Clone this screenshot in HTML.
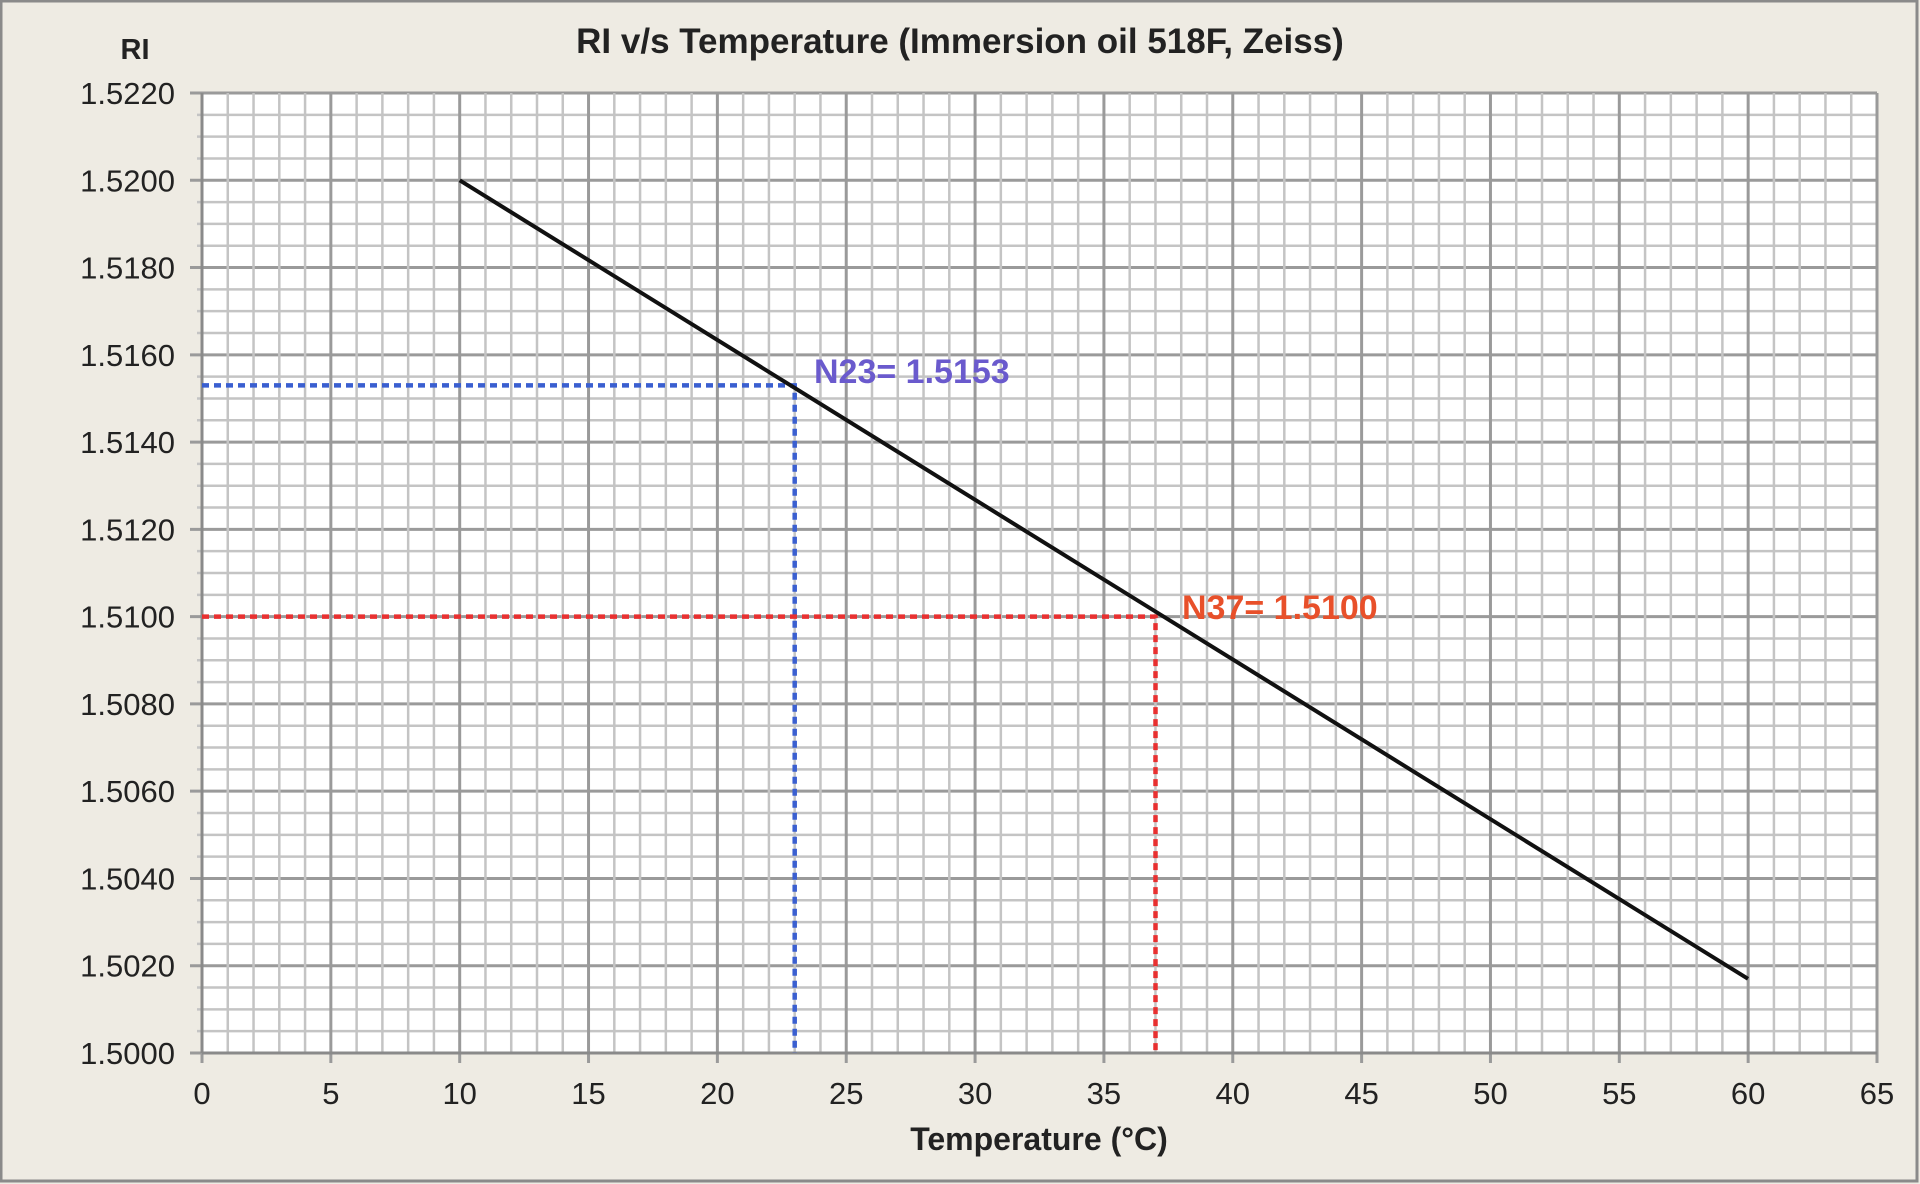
<!DOCTYPE html>
<html><head><meta charset="utf-8"><style>
html,body{margin:0;padding:0;background:#eeebe3;}
svg{display:block;font-family:"Liberation Sans",Arial,sans-serif;}
</style></head><body>
<svg id="s" width="1920" height="1184" viewBox="0 0 1920 1184" xmlns="http://www.w3.org/2000/svg">
<rect x="0" y="0" width="1920" height="1184" fill="#eeebe3"/>
<rect x="1" y="1" width="1916" height="1180" fill="none" stroke="#8a8a8a" stroke-width="3"/>
<rect x="202" y="93" width="1675" height="960" fill="#ffffff"/>
<g id="grid"></g>
<g id="lbl" font-size="31" fill="#222"></g>
<text x="960" y="53" text-anchor="middle" font-size="35" font-weight="bold" fill="#222">RI v/s Temperature  (Immersion oil 518F, Zeiss)</text>
<text x="135" y="59" text-anchor="middle" font-size="29" font-weight="bold" fill="#222">RI</text>
<text x="1039" y="1150" text-anchor="middle" font-size="32" font-weight="bold" fill="#222">Temperature (°C)</text>
<polyline points="202,385.4 794.7,385.4 794.7,1053" fill="none" stroke="#3a5fd0" stroke-width="4.5" stroke-dasharray="7,5"/>
<polyline points="202,616.6 1155.5,616.6 1155.5,1053" fill="none" stroke="#e83030" stroke-width="4.5" stroke-dasharray="7,5"/>
<line x1="459.7" y1="180.3" x2="1748" y2="978.8" stroke="#111" stroke-width="4"/>
<text x="814" y="383" font-size="34" font-weight="bold" fill="#6a5acd">N23= 1.5153</text>
<text x="1182" y="619" font-size="34" font-weight="bold" fill="#e8502a">N37= 1.5100</text>
</svg>
<script>
var ns="http://www.w3.org/2000/svg",g=document.getElementById("grid"),L=document.getElementById("lbl");
function ln(x1,y1,x2,y2,c,w){var e=document.createElementNS(ns,"line");e.setAttribute("x1",x1);e.setAttribute("y1",y1);e.setAttribute("x2",x2);e.setAttribute("y2",y2);e.setAttribute("stroke",c);e.setAttribute("stroke-width",w);g.appendChild(e);}
function tx(x,y,t,a){var e=document.createElementNS(ns,"text");e.setAttribute("x",x);e.setAttribute("y",y);e.setAttribute("text-anchor",a);e.textContent=t;L.appendChild(e);}
var X0=202,X1=1877,Y0=93,Y1=1053,px=(X1-X0)/65,py=(Y1-Y0)/44;
for(var i=0;i<=44;i++){var y=Y0+i*py,maj=i%4==0;ln(maj?X0-12:X0-5,y,X1,y,maj?"#9a9a9a":"#c4c4c4",maj?3:2.5);
 if(maj){var v=(1.5220-i/4*0.002).toFixed(4);tx(175,y+11,v,"end");}}
for(var j=0;j<=65;j++){var x=X0+j*px,maj=j%5==0;ln(x,Y0,x,maj?Y1+10:Y1,maj?"#9a9a9a":"#c4c4c4",maj?3:2.5);
 if(maj)tx(x,1104,String(j),"middle");}
ln(X0,Y0,X0,Y1,"#8a8a8a",3);ln(X0,Y1,X1,Y1,"#8a8a8a",3);
</script>
</body></html>
